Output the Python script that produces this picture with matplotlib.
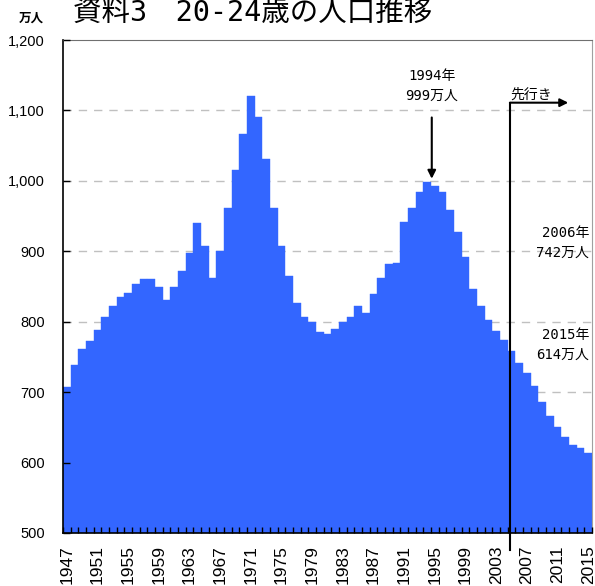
import numpy as np
import matplotlib
matplotlib.use('Agg')
import matplotlib.pyplot as plt
import matplotlib.ticker as mticker

plt.rcParams['font.family'] = ['Liberation Sans', 'DejaVu Sans']
JP = ['DejaVu Sans Mono', 'Noto Sans CJK JP']

# data (万人)
years = list(range(1947, 2016))
pop = [707, 738, 761, 772, 788, 806, 822, 835, 841, 854,
       861, 861, 849, 831, 849, 872, 897, 940, 908, 862,
       901, 961, 1015, 1067, 1121, 1090, 1031, 961, 908, 865,
       827, 807, 800, 786, 782, 789, 800, 806, 822, 813,
       840, 862, 882, 884, 942, 961, 984, 999, 993, 984,
       959, 928, 892, 847, 822, 803, 787, 774, 759, 742,
       727, 709, 686, 666, 650, 637, 625, 621, 614]
label_years = list(range(1947, 2016, 4))
yticks = list(range(500, 1201, 100))

fig = plt.figure(figsize=(5.95, 5.86), dpi=100)
ax = fig.add_axes([63 / 595, 53 / 586, 529 / 595, 493 / 586])

ax.bar(years, pop, width=1.0, color='#3366FF', edgecolor='#3366FF', linewidth=0.3, zorder=2)

ax.set_xlim(1946.5, 2015.5)
ax.set_ylim(500, 1200)
ax.set_axisbelow(False)  # tick marks drawn over the bars

# dashed grid under the bars
for v in yticks[1:-1]:
    ax.axhline(v, color='#c0c0c0', linestyle=(0, (6, 5)), linewidth=1, zorder=0.5)

ax.set_yticks(yticks)
ax.yaxis.set_major_formatter(mticker.FuncFormatter(lambda v, p: '{:,}'.format(int(v))))
ax.tick_params(axis='y', direction='in', length=5, width=1, pad=13, labelsize=10.5)

# x ticks: labels at bar centers, tick marks at bar boundaries
ax.set_xticks(label_years)
ax.set_xticklabels([str(y) for y in label_years], rotation=90)
ax.set_xticks(np.arange(1946.5, 2015.6, 1), minor=True)
ax.tick_params(axis='x', which='major', length=0, pad=9, labelsize=12.5)
ax.tick_params(axis='x', which='minor', direction='in', length=4, width=1, color='black')

for s in ['left', 'bottom']:
    ax.spines[s].set_color('black')
    ax.spines[s].set_linewidth(1.2)
ax.spines['top'].set_color('#707070')
ax.spines['right'].set_color('#a0a0a0')

# 1994 peak
ax.text(1994.6, 1135, '1994年\n999万人', ha='center', va='center', fontsize=10,
        family=JP, linespacing=1.5)
ax.annotate('', xy=(1994.6, 1003), xytext=(1994.6, 1090),
            arrowprops=dict(arrowstyle='-|>', color='black', lw=1.5, mutation_scale=12,
                            shrinkA=0, shrinkB=0))

# forecast line
ax.plot([2004.8, 2004.8], [476, 1111], color='black', lw=1.5, clip_on=False, zorder=4)
ax.annotate('', xy=(2012.4, 1111), xytext=(2004.8, 1111),
            arrowprops=dict(arrowstyle='-|>', color='black', lw=1.5, mutation_scale=12,
                            shrinkA=0, shrinkB=0))
ax.text(2004.9, 1112, '先行き', ha='left', va='bottom', fontsize=10, family=JP)

ax.text(0.995, 912, '2006年\n742万人', transform=ax.get_yaxis_transform(),
        ha='right', va='center', fontsize=10, family=JP, linespacing=1.5)
ax.text(0.995, 767, '2015年\n614万人', transform=ax.get_yaxis_transform(),
        ha='right', va='center', fontsize=10, family=JP, linespacing=1.5)

fig.text(73 / 595, 1 - 13 / 586, '資料3　20-24歳の人口推移', ha='left', va='center',
         fontsize=20.5, family=JP)
fig.text(31 / 595, 1 - 18 / 586, '万人', ha='center', va='center', fontsize=9,
         family=['Noto Sans CJK JP'], fontweight='bold')

fig.savefig('out.png', dpi=100)
